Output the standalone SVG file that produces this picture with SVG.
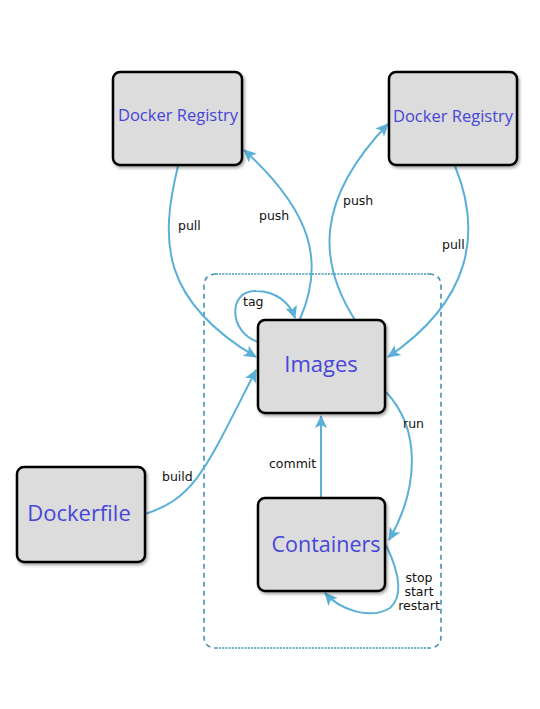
<svg xmlns="http://www.w3.org/2000/svg" width="540" height="709" viewBox="0 0 540 709">
<style>
.node{fill:#dcdcdc;stroke:#000;stroke-width:2.5;filter:url(#sh)}
.nt{font-family:"Open Sans","Noto Sans",sans-serif;fill:#4646d8;text-anchor:middle}
.lb{font-family:"DejaVu Sans","Liberation Sans",sans-serif;font-size:12.5px;fill:#111}
.c{fill:none;stroke:#5ab0d6;stroke-width:2;marker-end:url(#ah)}
.bd{fill:none;stroke:#3f95b0;stroke-width:1.6}
</style>
<defs>
<filter id="sh" x="-10%" y="-10%" width="130%" height="130%">
<feDropShadow dx="1.5" dy="2" stdDeviation="1.5" flood-color="#000" flood-opacity="0.35"/>
</filter>
<marker id="ah" markerUnits="userSpaceOnUse" markerWidth="14" markerHeight="12" refX="12" refY="6" orient="auto">
<path d="M0,0 L13,6 L0,12 L3,6 Z" fill="#5ab0d6"/>
</marker>
</defs>
<g id="boundary">
<path class="bd" stroke-dasharray="5 4" d="M216,274 Q204,274 204,286 L204,636 Q204,648 216,648 M429,274 Q441,274 441,286 L441,636 Q441,648 429,648"/>
<path class="bd" stroke="#4aa3c2" stroke-width="3.5" stroke-dasharray="2 1.2" d="M216,274 L429,274 M216,648 L429,648"/>
</g>
<g id="connectors">
<path class="c" d="M178,166 C160,240 160,300 256,357"/>
<path class="c" d="M300,319 C325,262 312,212 244,150"/>
<path class="c" d="M355,320 C318,262 315,200 388,124"/>
<path class="c" d="M455,166 C482,232 472,300 388,357"/>
<path class="c" d="M258,342 C228,332 228,290 256,291 C276,291 290,303 295,318"/>
<path class="c" d="M145,514 C195,498 205,470 256,370"/>
<path class="c" d="M321,498 L321,416"/>
<path class="c" d="M386,392 C422,430 418,490 389,540"/>
<path class="c" d="M386,545 C398,570 405,595 390,608 C370,620 340,610 325,593"/>
</g>
<g id="registry1">
<rect class="node" x="113" y="72" width="129" height="93" rx="7"/>
<text class="nt" x="178" y="121" font-size="16.5">Docker Registry</text>
</g>
<g id="registry2">
<rect class="node" x="389" y="72" width="128" height="93" rx="7"/>
<text class="nt" x="453" y="122" font-size="16.5">Docker Registry</text>
</g>
<g id="images">
<rect class="node" x="258" y="320" width="127" height="93" rx="7"/>
<text class="nt" x="321" y="372" font-size="22">Images</text>
</g>
<g id="containers">
<rect class="node" x="258" y="498" width="127" height="93" rx="7"/>
<text class="nt" x="326" y="552" font-size="21.5">Containers</text>
</g>
<g id="dockerfile">
<rect class="node" x="17" y="467" width="128" height="95" rx="7"/>
<text class="nt" x="79" y="521" font-size="22">Dockerfile</text>
</g>
<g id="labels">
<text class="lb" x="178" y="230">pull</text>
<text class="lb" x="259" y="220">push</text>
<text class="lb" x="343" y="205">push</text>
<text class="lb" x="442" y="249">pull</text>
<text class="lb" x="243" y="306">tag</text>
<text class="lb" x="162" y="481">build</text>
<text class="lb" x="269" y="468">commit</text>
<text class="lb" x="403" y="428">run</text>
<text class="lb" x="419" y="582" text-anchor="middle">stop</text>
<text class="lb" x="419" y="596" text-anchor="middle">start</text>
<text class="lb" x="419" y="610" text-anchor="middle">restart</text>
</g>
</svg>
